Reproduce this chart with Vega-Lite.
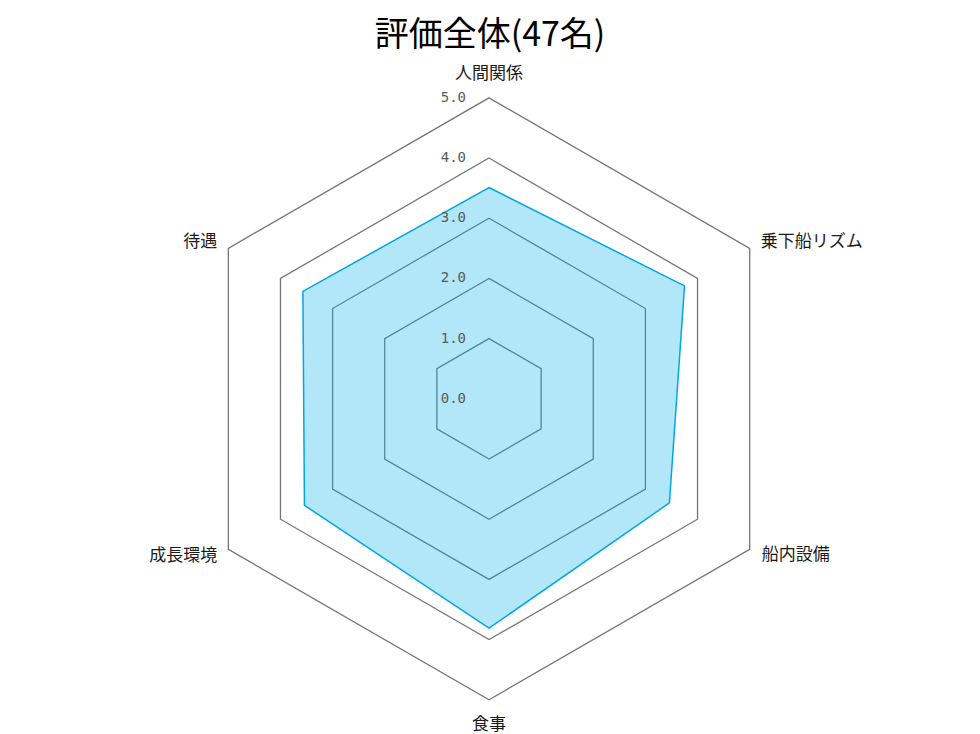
{
  "$schema": "https://vega.github.io/schema/vega-lite/v6.json",
  "description": "Radar chart of overall evaluation (47 people).",
  "autosize": "none",
  "padding": {"top": 80, "left": 0, "right": 0, "bottom": 0},
  "width": 980,
  "height": 654,
  "background": "white",
  "title": {
    "text": "評価全体(47名)",
    "font": "Noto Sans CJK JP",
    "fontSize": 34,
    "fontWeight": "normal",
    "color": "#000000",
    "anchor": "middle",
    "offset": 12
  },
  "config": {
    "view": {"stroke": null},
    "text": {"font": "Noto Sans CJK JP"}
  },
  "datasets": {
    "scores": [
      {"axis": "人間関係", "i": 0, "value": 3.51},
      {"axis": "乗下船リズム", "i": 1, "value": 3.75},
      {"axis": "船内設備", "i": 2, "value": 3.46},
      {"axis": "食事", "i": 3, "value": 3.81},
      {"axis": "成長環境", "i": 4, "value": 3.54},
      {"axis": "待遇", "i": 5, "value": 3.57}
    ],
    "grid": [
      {"level": 1, "i": [0, 1, 2, 3, 4, 5]},
      {"level": 2, "i": [0, 1, 2, 3, 4, 5]},
      {"level": 3, "i": [0, 1, 2, 3, 4, 5]},
      {"level": 4, "i": [0, 1, 2, 3, 4, 5]},
      {"level": 5, "i": [0, 1, 2, 3, 4, 5]}
    ],
    "ticks": [
      {"level": 0}, {"level": 1}, {"level": 2},
      {"level": 3}, {"level": 4}, {"level": 5}
    ]
  },
  "layer": [
    {
      "data": {"name": "grid"},
      "transform": [
        {"flatten": ["i"]},
        {"calculate": "datum.level * sin(datum.i * PI / 3)", "as": "x"},
        {"calculate": "datum.level * cos(datum.i * PI / 3)", "as": "y"}
      ],
      "mark": {
        "type": "line",
        "interpolate": "linear-closed",
        "stroke": "#767676",
        "strokeWidth": 1.3
      },
      "encoding": {
        "x": {
          "field": "x",
          "type": "quantitative",
          "scale": {"domain": [-8.123, 8.156], "nice": false, "zero": false},
          "axis": null
        },
        "y": {
          "field": "y",
          "type": "quantitative",
          "scale": {"domain": [-5.568, 5.296], "nice": false, "zero": false},
          "axis": null
        },
        "detail": {"field": "level", "type": "nominal"},
        "order": {"field": "i", "type": "quantitative"}
      }
    },
    {
      "data": {"name": "scores"},
      "transform": [
        {"calculate": "datum.value * sin(datum.i * PI / 3)", "as": "x"},
        {"calculate": "datum.value * cos(datum.i * PI / 3)", "as": "y"}
      ],
      "mark": {
        "type": "line",
        "interpolate": "linear-closed",
        "fill": "#00B0F0",
        "fillOpacity": 0.3,
        "stroke": "#00A6E6",
        "strokeWidth": 1.5
      },
      "encoding": {
        "x": {"field": "x", "type": "quantitative", "axis": null},
        "y": {"field": "y", "type": "quantitative", "axis": null},
        "order": {"field": "i", "type": "quantitative"},
        "tooltip": [
          {"field": "axis", "type": "nominal", "title": "項目"},
          {"field": "value", "type": "quantitative", "format": ".2f", "title": "評価"}
        ]
      }
    },
    {
      "data": {"name": "ticks"},
      "mark": {
        "type": "text",
        "align": "right",
        "baseline": "middle",
        "dx": -23,
        "font": "DejaVu Sans Mono",
        "fontSize": 14,
        "color": "#595959"
      },
      "encoding": {
        "x": {"datum": 0, "type": "quantitative"},
        "y": {"field": "level", "type": "quantitative"},
        "text": {"field": "level", "type": "quantitative", "format": ".1f"}
      }
    },
    {
      "data": {"name": "scores"},
      "transform": [
        {"filter": "datum.i == 0"},
        {"calculate": "5 * sin(datum.i * PI / 3)", "as": "x"},
        {"calculate": "5 * cos(datum.i * PI / 3)", "as": "y"}
      ],
      "mark": {"type": "text", "align": "center", "baseline": "middle", "dy": -24, "fontSize": 17, "color": "#1a1a1a"},
      "encoding": {
        "x": {"field": "x", "type": "quantitative"},
        "y": {"field": "y", "type": "quantitative"},
        "text": {"field": "axis"}
      }
    },
    {
      "data": {"name": "scores"},
      "transform": [
        {"filter": "datum.i == 1"},
        {"calculate": "5 * sin(datum.i * PI / 3)", "as": "x"},
        {"calculate": "5 * cos(datum.i * PI / 3)", "as": "y"}
      ],
      "mark": {"type": "text", "align": "left", "baseline": "middle", "dx": 11, "dy": -6, "fontSize": 17, "color": "#1a1a1a"},
      "encoding": {
        "x": {"field": "x", "type": "quantitative"},
        "y": {"field": "y", "type": "quantitative"},
        "text": {"field": "axis"}
      }
    },
    {
      "data": {"name": "scores"},
      "transform": [
        {"filter": "datum.i == 2"},
        {"calculate": "5 * sin(datum.i * PI / 3)", "as": "x"},
        {"calculate": "5 * cos(datum.i * PI / 3)", "as": "y"}
      ],
      "mark": {"type": "text", "align": "left", "baseline": "middle", "dx": 12, "dy": 6, "fontSize": 17, "color": "#1a1a1a"},
      "encoding": {
        "x": {"field": "x", "type": "quantitative"},
        "y": {"field": "y", "type": "quantitative"},
        "text": {"field": "axis"}
      }
    },
    {
      "data": {"name": "scores"},
      "transform": [
        {"filter": "datum.i == 3"},
        {"calculate": "5 * sin(datum.i * PI / 3)", "as": "x"},
        {"calculate": "5 * cos(datum.i * PI / 3)", "as": "y"}
      ],
      "mark": {"type": "text", "align": "center", "baseline": "middle", "dy": 25, "fontSize": 17, "color": "#1a1a1a"},
      "encoding": {
        "x": {"field": "x", "type": "quantitative"},
        "y": {"field": "y", "type": "quantitative"},
        "text": {"field": "axis"}
      }
    },
    {
      "data": {"name": "scores"},
      "transform": [
        {"filter": "datum.i == 4"},
        {"calculate": "5 * sin(datum.i * PI / 3)", "as": "x"},
        {"calculate": "5 * cos(datum.i * PI / 3)", "as": "y"}
      ],
      "mark": {"type": "text", "align": "right", "baseline": "middle", "dx": -11, "dy": 7, "fontSize": 17, "color": "#1a1a1a"},
      "encoding": {
        "x": {"field": "x", "type": "quantitative"},
        "y": {"field": "y", "type": "quantitative"},
        "text": {"field": "axis"}
      }
    },
    {
      "data": {"name": "scores"},
      "transform": [
        {"filter": "datum.i == 5"},
        {"calculate": "5 * sin(datum.i * PI / 3)", "as": "x"},
        {"calculate": "5 * cos(datum.i * PI / 3)", "as": "y"}
      ],
      "mark": {"type": "text", "align": "right", "baseline": "middle", "dx": -11, "dy": -6, "fontSize": 17, "color": "#1a1a1a"},
      "encoding": {
        "x": {"field": "x", "type": "quantitative"},
        "y": {"field": "y", "type": "quantitative"},
        "text": {"field": "axis"}
      }
    }
  ]
}
